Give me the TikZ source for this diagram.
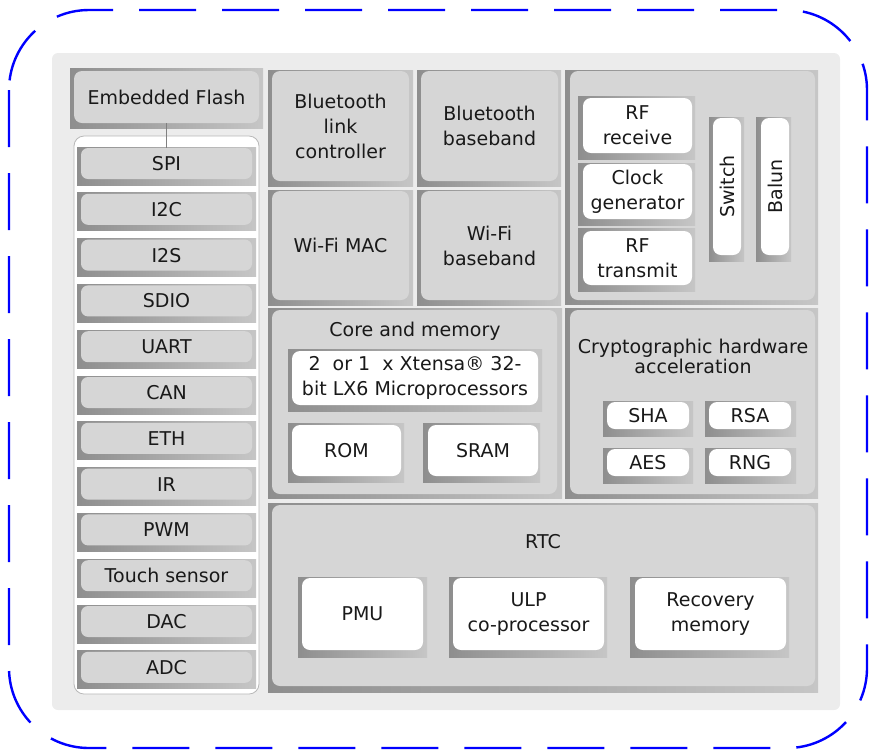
\documentclass[tikz,border=0pt]{standalone}
\usepackage{fontspec}
\setmainfont{DejaVu Sans}
\definecolor{bggray}{HTML}{ECECEC}
\definecolor{boxgray}{HTML}{D6D6D6}
\definecolor{shadedark}{HTML}{8E8E8E}
\definecolor{shadelight}{HTML}{C6C6C6}
\definecolor{edgegray}{HTML}{B8B8B8}
\begin{document}
\begin{tikzpicture}[x=0.5pt,y=-0.5pt]
    \tikzset{
        frame/.style={left color=shadedark, right color=shadelight},
        wh/.style 2 args={minimum width=#1pt, minimum height=#2pt},
        gbox/.style={fill=boxgray, rounded corners=4pt, inner sep=0pt, align=center,
            text=black!90, font=\fontsize{9.5}{12.5}\selectfont},
        wbox/.style={gbox, fill=white},
        pbox/.style={gbox, rounded corners=3.5pt},
        title/.style={align=center, text=black!90, font=\fontsize{9.5}{12.5}\selectfont}
    }
    \useasboundingbox (0,0) rectangle (872,751);

    % outline and background
    \draw[blue, line width=1.2pt, dash pattern=on 28.5pt off 13pt, rounded corners=40pt] (9,10) rectangle (867,748);
    \fill[bggray, rounded corners=3pt] (52,53) rectangle (840,710);

    % flash and peripherals
    \fill[frame] (70,68) rectangle (263,128);
    \node[gbox, wh={92.5}{26}] (flash) at (166.5,97) {Embedded Flash};
    \filldraw[fill=white, draw=edgegray, rounded corners=5pt] (74,136) rectangle (259,694);
    \foreach \n/\lab [count=\i from 0] in {%
        spi/SPI, i2c/I2C, i2s/I2S, sdio/SDIO, uart/UART, can/CAN,
        eth/ETH, ir/IR, pwm/PWM, touch/Touch sensor, dac/DAC, adc/ADC%
    }{
        \fill[frame] (77,{147+45.8*\i}) rectangle (256,{185+45.8*\i});
        \node[pbox, wh={85.5}{15.5}] (\n) at (166.5,{163.5+45.8*\i}) {\lab};
    }
    \draw[gray] (flash.south) -- (spi.north);

    % bluetooth and wi-fi
    \fill[frame] (268,70) rectangle (413,186);
    \node[gbox, wh={68.5}{55}] (btlc) at (340.5,126) {Bluetooth\\link\\controller};
    \fill[frame] (417,70) rectangle (561,186);
    \node[gbox, wh={68.5}{55}] (btbb) at (489.5,126) {Bluetooth\\baseband};
    \fill[frame] (268,190) rectangle (413,305);
    \node[gbox, wh={68.5}{54.5}] (wmac) at (340.5,245.5) {Wi-Fi MAC};
    \fill[frame] (417,190) rectangle (561,305);
    \node[gbox, wh={68.5}{54.5}] (wbb) at (489.5,245.5) {Wi-Fi\\baseband};

    % radio
    \fill[frame] (565,70) rectangle (818,304);
    \node[gbox, wh={122.5}{114.5}] (radio) at (692.5,185.5) {};
    \fill[frame] (578,96) rectangle (695,159);
    \node[wbox, wh={54.5}{27.5}] (rfrx) at (637.5,125.5) {RF\\receive};
    \fill[frame] (578,163) rectangle (695,225);
    \node[wbox, wh={54.5}{27.5}] (clk) at (637.5,191.5) {Clock\\generator};
    \fill[frame] (578,228) rectangle (695,291);
    \node[wbox, wh={54.5}{27}] (rftx) at (637.5,258) {RF\\transmit};
    \fill[frame] (709,117) rectangle (744,261);
    \node[wbox, wh={14}{68.5}] (switch) at (727,186.5) {};
    \node[title, rotate=90] (switcht) at (switch) {Switch};
    \fill[frame] (756,117) rectangle (791,261);
    \node[wbox, wh={14}{68.5}] (balun) at (775,186.5) {};
    \node[title, rotate=90] (balunt) at (balun) {Balun};

    % core and memory
    \fill[frame] (268,308) rectangle (562,498);
    \node[gbox, wh={142.5}{92}] (core) at (414.5,402) {};
    \node[title] (coret) at (415,331) {Core and memory};
    \fill[frame] (288,349) rectangle (542,411);
    \node[wbox, wh={123}{27}] (cpu) at (415,378) {2\ \ or 1\ \ x Xtensa® 32-\\bit LX6 Microprocessors};
    \fill[frame] (288,423) rectangle (404,482);
    \node[wbox, wh={54.5}{25.5}] (rom) at (346.5,450.5) {ROM};
    \fill[frame] (423,423) rectangle (540,482);
    \node[wbox, wh={55}{25.5}] (sram) at (483,450.5) {SRAM};

    % crypto
    \fill[frame] (565,308) rectangle (818,498);
    \node[gbox, wh={122.5}{92}] (crypto) at (692.5,402) {};
    \node[title, font=\fontsize{9.5}{10}\selectfont] (cryptot) at (693,356) {Cryptographic hardware\\acceleration};
    \fill[frame] (603,401) rectangle (693,436);
    \node[wbox, wh={41}{13.5}] (sha) at (648,415.5) {SHA};
    \fill[frame] (705,401) rectangle (796,436);
    \node[wbox, wh={41}{13.5}] (rsa) at (750,415.5) {RSA};
    \fill[frame] (603,448) rectangle (693,483);
    \node[wbox, wh={41}{13.5}] (aes) at (648,462.5) {AES};
    \fill[frame] (705,448) rectangle (796,483);
    \node[wbox, wh={41}{13.5}] (rng) at (750,462.5) {RNG};

    % rtc
    \fill[frame] (268,503) rectangle (818,692);
    \node[gbox, wh={271.5}{90.5}] (rtc) at (543.5,595.5) {};
    \node[title] (rtct) at (543,542) {RTC};
    \fill[frame] (298,577) rectangle (427,657);
    \node[wbox, wh={60.5}{36}] (pmu) at (362.5,614) {PMU};
    \fill[frame] (449,577) rectangle (607,657);
    \node[wbox, wh={75.5}{36}] (ulp) at (528.5,614) {ULP\\co-processor};
    \fill[frame] (630,577) rectangle (789,657);
    \node[wbox, wh={75.5}{36}] (recov) at (710.5,614) {Recovery\\memory};
\end{tikzpicture}
\end{document}
